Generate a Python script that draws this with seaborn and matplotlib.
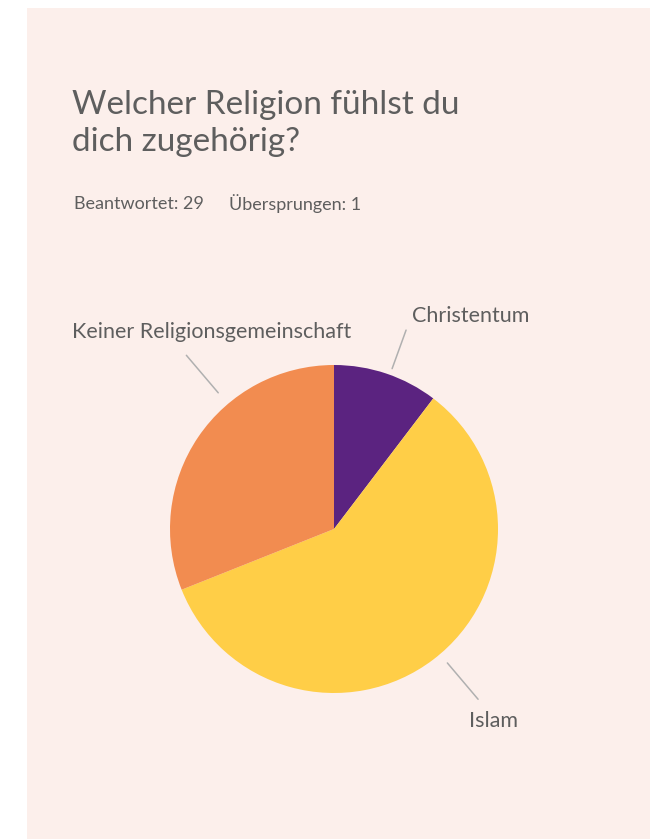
import numpy as np
import seaborn as sns
import matplotlib.pyplot as plt
from matplotlib.patches import Rectangle

# data (29 answers)
categories = ["Christentum", "Islam", "Keiner Religionsgemeinschaft"]
counts = [3, 17, 9]
answered = 29
skipped = 1

title = "Welcher Religion fühlst du\ndich zugehörig?"
colors = ["#5B2380", "#FFCE47", "#F28C50"]
text_color = "#5E5E5E"
bg_color = "#FCEFEB"

sns.set_theme(style="white")
plt.rcParams['font.family'] = ['Lato', 'DejaVu Sans']

W, H = 661, 839
fig = plt.figure(figsize=(W / 100, H / 100), dpi=100)
fig.patch.set_facecolor("white")

# pink card behind everything
fig.patches.append(Rectangle((27 / W, 0), (650 - 27) / W, (839 - 8) / H,
                             transform=fig.transFigure, facecolor=bg_color,
                             edgecolor="none", zorder=-10))

fig.text(72 / W, 1 - 90 / H, title, fontsize=24, color=text_color,
         va="top", ha="left", linespacing=1.28)
fig.text(74 / W, 1 - 204 / H, f"Beantwortet: {answered}", fontsize=13,
         color=text_color, va="center", ha="left")
fig.text(229 / W, 1 - 204 / H, f"Übersprungen: {skipped}", fontsize=13,
         color=text_color, va="center", ha="left")

# pie axes: radius 1 -> 164 px, centre at (334, 529)
r_px = 164
cx, cy = 334, 529
span = 1.6
ax = fig.add_axes([(cx - span * r_px) / W, (H - cy - span * r_px) / H,
                   2 * span * r_px / W, 2 * span * r_px / H])
ax.patch.set_visible(False)

wedges, _ = ax.pie(counts, colors=colors, startangle=90, counterclock=False,
                   radius=1.0, wedgeprops=dict(linewidth=0))
ax.set_xlim(-span, span)
ax.set_ylim(-span, span)
ax.axis("off")

# leader lines + labels
angle_nudge = [-1.3, 3, -15.5]       # degrees, layout only
line_in = [1.04, 1.07, 1.09]
line_out = [1.29, 1.36, 1.39]
label_off = [(65, 14), (15, -22), (25, 23)]   # px from outer end of line
px = 1 / r_px
for w, name, nd, ri, ro, off in zip(wedges, categories, angle_nudge,
                                    line_in, line_out, label_off):
    mid = np.deg2rad((w.theta1 + w.theta2) / 2 + nd)
    x0, y0 = ri * np.cos(mid), ri * np.sin(mid)
    x1, y1 = ro * np.cos(mid), ro * np.sin(mid)
    ax.plot([x0, x1], [y0, y1], color="#B0B0B0", lw=1.1, clip_on=False)
    ax.text(x1 + off[0] * px, y1 + off[1] * px, name, fontsize=15.5,
            color=text_color, ha="center", va="center")

fig.savefig("out.png", dpi=100, facecolor=fig.get_facecolor())
